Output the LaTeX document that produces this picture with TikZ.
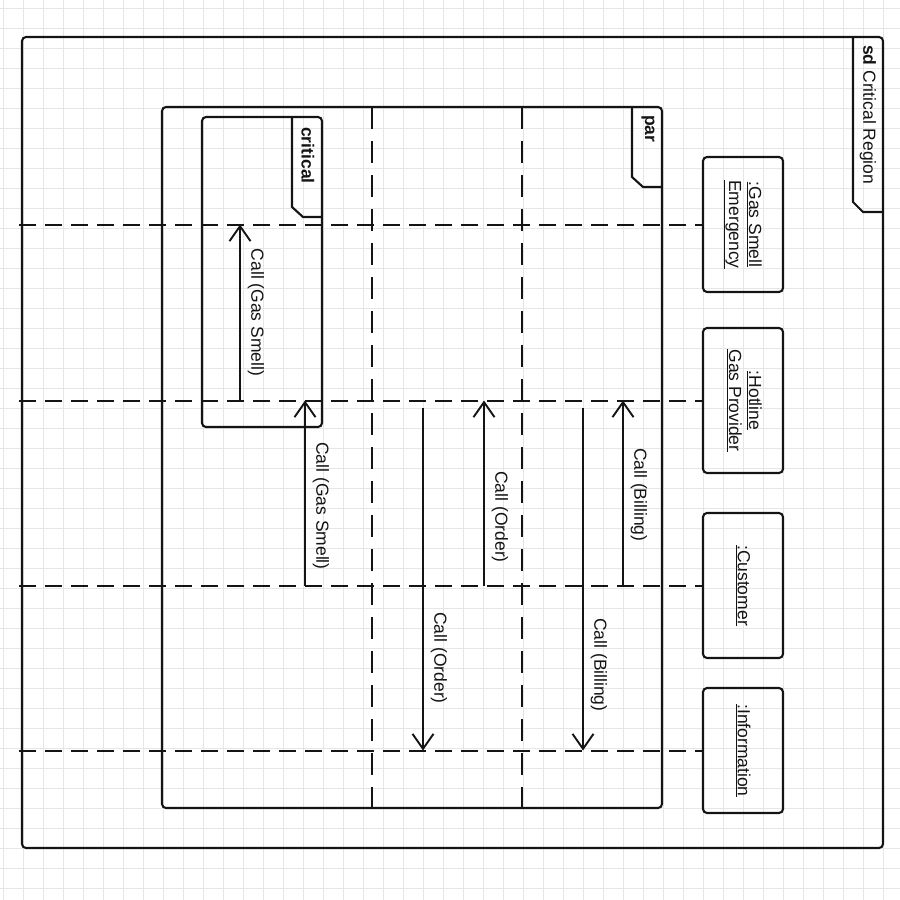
\documentclass[tikz,border=0pt]{standalone}
\usepackage{fontspec}
\setmainfont{Liberation Sans}
\usetikzlibrary{arrows.meta}
\definecolor{gridgray}{RGB}{230,230,230}
\definecolor{inkblack}{RGB}{20,20,20}

\begin{document}
\begin{tikzpicture}[x=1bp, y=-1bp,
    every node/.style={font=\fontsize{17.5bp}{20bp}\selectfont, text=inkblack},
    gridline/.style={gridgray, line width=0.8bp},
    frame/.style={draw=inkblack, line width=2.1bp, rounded corners=4bp},
    tabline/.style={draw=inkblack, line width=2.1bp},
    tabtext/.style={rotate=-90, anchor=west, inner sep=0pt},
    lifebox/.style={draw=inkblack, line width=2.1bp, rounded corners=4bp, minimum width=80bp, inner sep=0pt},
    lifeline/.style={draw=inkblack, line width=2bp, dash pattern=on 17bp off 9bp},
    sepline/.style={draw=inkblack, line width=2bp, dash pattern=on 22bp off 12bp},
    msg/.style={draw=inkblack, line width=1.9bp, -{Straight Barb[length=15bp, width=21bp, line width=1.9bp]}},
    lbl/.style={xshift=16bp, rotate=-90, inner sep=0pt}]
  \useasboundingbox (0,0) rectangle (900,900);

  % grid
  \foreach \gx in {3,23,...,883} \draw[gridline] (\gx,0) -- (\gx,900);
  \foreach \gy in {8,28,...,888} \draw[gridline] (0,\gy) -- (900,\gy);

  % frames
  \draw[frame] (22,37) rectangle (883,848);
  \draw[tabline] (853,37) -- (853,202) -- (863,212) -- (883,212);
  \node[tabtext] (sdlbl) at (868,45) {\textbf{sd} Critical Region};

  \draw[frame] (162,107) rectangle (662,808);
  \draw[tabline] (632,107) -- (632,177) -- (643,187) -- (662,187);
  \node[tabtext] (parlbl) at (648,115) {\textbf{par}};

  \draw[frame] (202,117) rectangle (322,427);
  \draw[tabline] (292,117) -- (292,207) -- (303,217) -- (322,217);
  \node[tabtext] (critlbl) at (308,127) {\textbf{critical}};

  \draw[sepline] (372,107) -- (372,808);
  \draw[sepline] (522,107) -- (522,808);

  % lifelines
  \node[lifebox, minimum height=135bp] (gse) at (743,224.5)
    {\rotatebox{-90}{\begin{tabular}{@{}c@{}}\underline{:Gas Smell}\\\underline{Emergency}\end{tabular}}};
  \node[lifebox, minimum height=145bp] (hgp) at (743,400.5)
    {\rotatebox{-90}{\begin{tabular}{@{}c@{}}\underline{:Hotline}\\\underline{Gas Provider}\end{tabular}}};
  \node[lifebox, minimum height=145bp] (cust) at (743,585.5)
    {\rotatebox{-90}{\underline{:Customer}}};
  \node[lifebox, minimum height=125bp] (info) at (743,750.5)
    {\rotatebox{-90}{\underline{:Information}}};

  \coordinate (lft) at (19,0);
  \foreach \ll in {gse,hgp,cust,info}
    \draw[lifeline] (lft |- \ll.west) -- (\ll.west);

  % messages
  \coordinate (m1) at (240,0);
  \coordinate (m2) at (305,0);
  \coordinate (m3) at (423,408);
  \coordinate (m4) at (484,0);
  \coordinate (m5) at (583,408);
  \coordinate (m6) at (623,0);

  \draw[msg] (m1 |- hgp) -- (m1 |- gse) node[lbl, pos=0.5] {Call (Gas Smell)};
  \draw[msg] (m2 |- cust) -- (m2 |- hgp) node[lbl, pos=0.43] {Call (Gas Smell)};
  \draw[msg] (m3) -- (m3 |- info) node[lbl, pos=0.73] {Call (Order)};
  \draw[msg] (m4 |- cust) -- (m4 |- hgp) node[lbl, pos=0.37] {Call (Order)};
  \draw[msg] (m5) -- (m5 |- info) node[lbl, pos=0.75] {Call (Billing)};
  \draw[msg] (m6 |- cust) -- (m6 |- hgp) node[lbl, pos=0.49] {Call (Billing)};
\end{tikzpicture}
\end{document}
